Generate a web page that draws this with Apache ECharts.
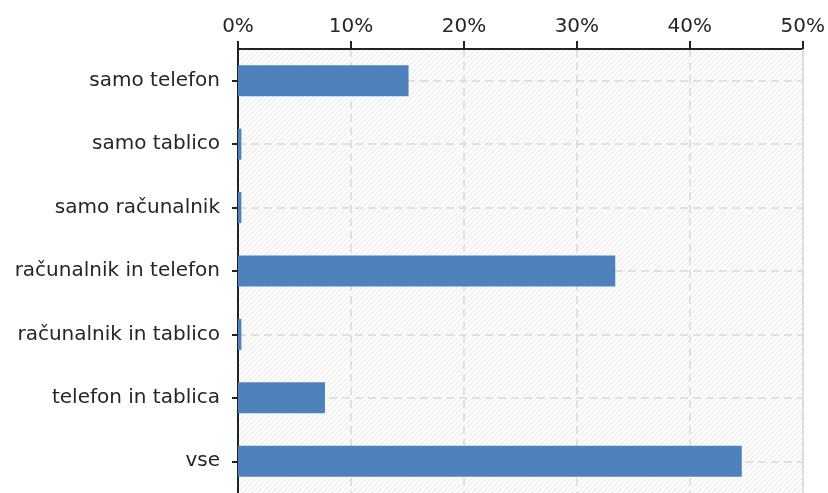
<!DOCTYPE html>
<html>
<head>
<meta charset="utf-8">
<script src="https://cdn.jsdelivr.net/npm/echarts@6/dist/echarts.min.js"></script>
<style>html,body{margin:0;padding:0;background:#fff}#c{width:828px;height:493px}</style>
</head>
<body>
<div id="c"></div>
<script>
const categories = ["samo telefon","samo tablico","samo računalnik","računalnik in telefon","računalnik in tablico","telefon in tablica","vse"];
const values = [15.1, 0.3, 0.3, 33.4, 0.3, 7.7, 44.6];
const axisMax = 50;
const axisStep = 10;

function hatch(){
  const n = 5;
  const c = document.createElement('canvas');
  c.width = n; c.height = n;
  const g = c.getContext('2d');
  g.fillStyle = '#ffffff'; g.fillRect(0,0,n,n);
  g.strokeStyle = '#ebebeb'; g.lineWidth = 1.2;
  g.beginPath();
  g.moveTo(0,n); g.lineTo(n,0);
  g.moveTo(-n,n); g.lineTo(n,-n);
  g.moveTo(0,2*n); g.lineTo(2*n,0);
  g.stroke();
  return c;
}

const chart = echarts.init(document.getElementById('c'));
chart.setOption({
  animation:false,
  grid:{left:238,right:25,top:49,bottom:-4,show:true,borderWidth:0,backgroundColor:{image:hatch(),repeat:'repeat'}},
  xAxis:{type:'value',position:'top',min:0,max:axisMax,interval:axisStep,
    axisLine:{show:true,lineStyle:{color:'#222',width:2}},
    axisTick:{show:true,length:8,lineStyle:{color:'#222',width:2}},
    axisLabel:{formatter:'{value}%',color:'#262626',fontFamily:'DejaVu Sans',fontSize:20,margin:12},
    splitLine:{show:true,lineStyle:{color:'#d9d9d9',type:[8,5],width:1.5}}
  },
  yAxis:{type:'category',data:categories,inverse:true,
    axisLine:{show:true,lineStyle:{color:'#222',width:2}},
    axisTick:{show:true,alignWithLabel:true,length:6,lineStyle:{color:'#222',width:2}},
    axisLabel:{color:'#262626',fontFamily:'DejaVu Sans',fontSize:20,margin:18},
    splitLine:{show:false}
  },
  series:[
    {type:'bar',data:values,barWidth:31,itemStyle:{color:'#4F81BD'},z:3},
    {type:'line',data:[],symbol:'none',
     markLine:{silent:true,z:1,symbol:'none',label:{show:false},animation:false,
       lineStyle:{color:'#d9d9d9',type:[8,5],width:1.5},
       data:categories.map(c=>({yAxis:c}))}},
    {type:'line',data:[],symbol:'none',
     markLine:{silent:true,z:1,symbol:'none',label:{show:false},animation:false,
       lineStyle:{color:'#d9d9d9',type:'solid',width:1.5},
       data:[{xAxis:axisMax}]}}
  ]
});
</script>
</body>
</html>
